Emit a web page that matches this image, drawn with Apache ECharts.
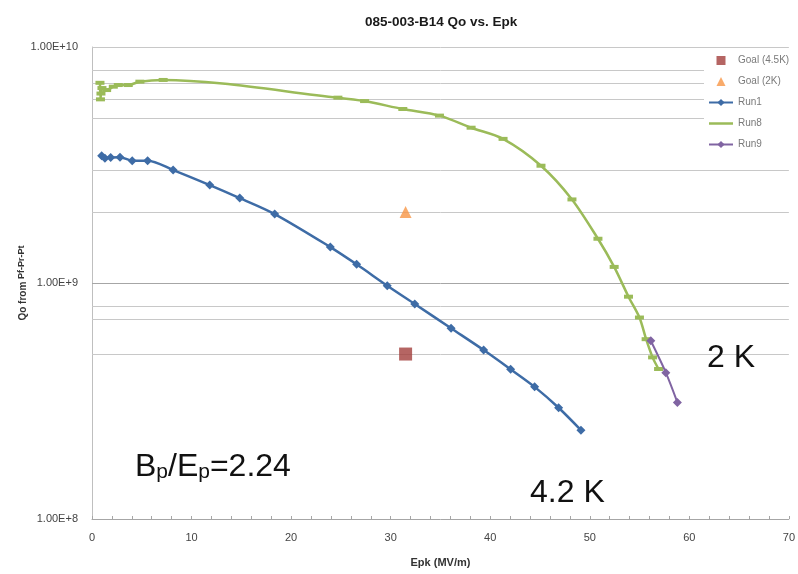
<!DOCTYPE html>
<html>
<head>
<meta charset="utf-8">
<script src="https://cdn.jsdelivr.net/npm/echarts@6/dist/echarts.min.js"></script>
<style>
html,body{margin:0;padding:0;background:#fff;}
#main{width:798px;height:574px;}
</style>
</head>
<body>
<div id="main"></div>
<script>
// ---- data ----
const titleText = '085-003-B14 Qo vs. Epk';
const xName = 'Epk (MV/m)';
const seriesNames = ['Goal (4.5K)', 'Goal (2K)', 'Run1', 'Run8', 'Run9'];

const goal45 = [[31.5, 5.0e8]];
const goal2 = [[31.5, 2.0e9]];

const run1 = [
  [0.97, 3.46e9], [1.30, 3.38e9], [1.88, 3.40e9], [2.81, 3.41e9], [4.04, 3.30e9],
  [5.59, 3.30e9], [8.15, 3.01e9], [11.83, 2.60e9], [14.84, 2.29e9], [18.35, 1.96e9],
  [23.94, 1.42e9], [26.58, 1.20e9], [29.66, 9.74e8], [32.42, 8.15e8], [36.07, 6.43e8],
  [39.34, 5.20e8], [42.05, 4.31e8], [44.46, 3.63e8], [46.87, 2.96e8], [49.11, 2.38e8]
];

const run8 = [
  [0.80, 7.05e9], [0.85, 6.00e9], [0.90, 6.35e9], [1.00, 6.70e9], [1.47, 6.57e9],
  [2.14, 6.79e9], [2.64, 6.90e9], [3.64, 6.90e9], [4.81, 7.13e9], [7.15, 7.25e9],
  [24.70, 6.10e9], [27.38, 5.90e9], [31.22, 5.46e9], [34.90, 5.12e9], [38.08, 4.55e9],
  [41.29, 4.08e9], [45.10, 3.14e9], [48.21, 2.26e9], [50.82, 1.54e9], [52.45, 1.17e9],
  [53.89, 8.75e8], [54.99, 7.14e8], [55.66, 5.78e8], [56.31, 4.84e8], [56.91, 4.32e8]
];

const run9 = [[56.13, 5.69e8], [57.64, 4.17e8], [58.80, 3.12e8]];

const gridValues = [1e10, 8e9, 7e9, 6e9, 5e9, 3e9, 2e9, 1e9, 8e8, 7e8, 5e8];
const xMin = 0, xMax = 70, xInterval = 10;
const yMin = 1e8, yMax = 1e10;

// ---- chart ----
const chart = echarts.init(document.getElementById('main'), null, {renderer: 'canvas'});
const FONT = '"Liberation Sans", Arial, sans-serif';

const option = {
  backgroundColor: '#ffffff',
  animation: false,
  title: {
    text: titleText,
    left: 360, top: 10,
    textStyle: {fontFamily: FONT, fontSize: 13.5, fontWeight: 'bold', color: '#1a1a1a'}
  },
  grid: {left: 92, right: 8, top: 47, bottom: 55, containLabel: false},
  legend: {
    orient: 'vertical',
    left: 704, top: 48, z: 10,
    padding: [7, 6, 14, 4],
    backgroundColor: '#ffffff',
    itemWidth: 24, itemHeight: 9, itemGap: 10,
    data: [
      {name: seriesNames[0], icon: 'path://M0,0L10,0L10,10L0,10Z'},
      {name: seriesNames[1], icon: 'path://M5,0L10,10L0,10Z'},
      {name: seriesNames[2]},
      {name: seriesNames[3], icon: 'path://M0,0L24,0L24,2.5L0,2.5Z'},
      {name: seriesNames[4]}
    ],
    textStyle: {fontFamily: FONT, fontSize: 10, color: '#7a7a7a', lineHeight: 11}
  },
  xAxis: {
    type: 'value', min: xMin, max: xMax, interval: xInterval,
    name: xName, nameLocation: 'middle', nameGap: 38,
    nameTextStyle: {fontFamily: FONT, fontSize: 11, fontWeight: 'bold', color: '#333'},
    axisLine: {show: true, lineStyle: {color: '#a6a6a6', width: 1}},
    axisTick: {show: true, inside: true, length: 3, lineStyle: {color: '#a6a6a6'}},
    minorTick: {show: true, splitNumber: 5, length: 3, lineStyle: {color: '#a6a6a6'}},
    axisLabel: {fontFamily: FONT, fontSize: 11, color: '#444', margin: 13},
    splitLine: {show: false}
  },
  yAxis: {
    type: 'log', logBase: 10, min: yMin, max: yMax,
    name: '{a|Qo from }{b|Pf-Pr-Pt}', nameLocation: 'middle', nameGap: 62,
    nameMoveOverlap: false,
    nameTextStyle: {
      rich: {
        a: {fontFamily: FONT, fontSize: 10, fontWeight: 'bold', color: '#333'},
        b: {fontFamily: FONT, fontSize: 9, fontWeight: 'bold', color: '#333', padding: [0, 0, 4, 0]}
      }
    },
    axisLine: {show: true, lineStyle: {color: '#bfbfbf', width: 1}},
    axisTick: {show: false},
    axisLabel: {
      fontFamily: FONT, fontSize: 11, color: '#444', margin: 14,
      formatter: v => Number(v).toExponential(2).toUpperCase()
    },
    splitLine: {show: false}
  },
  graphic: [
    {type: 'text', x: 135, y: 465, z: 50, style: {
      text: '{m|B}{s|p}{m|/E}{s|p}{m|=2.24}',
      verticalAlign: 'middle', align: 'left',
      rich: {
        m: {fontFamily: FONT, fontSize: 32, fill: '#111', lineHeight: 36, verticalAlign: 'bottom'},
        s: {fontFamily: FONT, fontSize: 21, fill: '#111', lineHeight: 23, verticalAlign: 'bottom'}
      }
    }},
    {type: 'text', x: 530, y: 493, z: 50, style: {
      text: '4.2 K', font: '32px "Liberation Sans", Arial, sans-serif', fill: '#111',
      verticalAlign: 'middle', align: 'left'
    }},
    {type: 'text', x: 707, y: 358, z: 50, style: {
      text: '2 K', font: '32px "Liberation Sans", Arial, sans-serif', fill: '#111',
      verticalAlign: 'middle', align: 'left'
    }}
  ],
  series: [
    {
      name: '__grid', type: 'line', data: [], silent: true, z: 1,
      markLine: {
        silent: true, symbol: 'none', animation: false, z: 1,
        label: {show: false},
        lineStyle: {color: '#c8c8c8', width: 1, type: 'solid'},
        data: gridValues.map(v => ({yAxis: v, lineStyle: v === 1e9 ? {color: '#a6a6a6'} : undefined}))
      }
    },
    {
      name: seriesNames[0], type: 'scatter', data: goal45,
      symbol: 'rect', symbolSize: 13,
      itemStyle: {color: '#a23f3c'}, z: 5
    },
    {
      name: seriesNames[1], type: 'scatter', data: goal2,
      symbol: 'triangle', symbolSize: 12,
      itemStyle: {color: '#f79646'}, z: 5
    },
    {
      name: seriesNames[2], type: 'line', data: run1, smooth: 0.3,
      symbol: 'diamond', symbolSize: 9, showAllSymbol: true,
      lineStyle: {color: '#3e6ca6', width: 2.5},
      itemStyle: {color: '#3e6ca6'}, z: 4
    },
    {
      name: seriesNames[3], type: 'line', data: run8, smooth: 0.3,
      symbol: 'rect', symbolSize: [9, 4], showAllSymbol: true,
      lineStyle: {color: '#9bbb59', width: 2.5},
      itemStyle: {color: '#9bbb59'}, z: 3
    },
    {
      name: seriesNames[4], type: 'line', data: run9, smooth: 0.3,
      symbol: 'diamond', symbolSize: 9, showAllSymbol: true,
      lineStyle: {color: '#8064a2', width: 2},
      itemStyle: {color: '#8064a2'}, z: 4
    }
  ]
};
chart.setOption(option);
</script>
</body>
</html>
